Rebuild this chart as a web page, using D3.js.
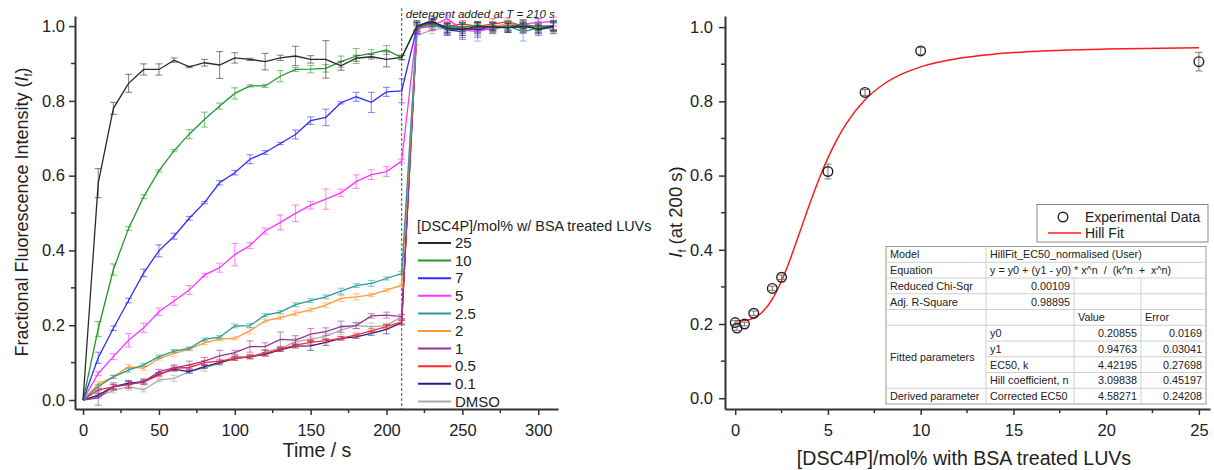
<!DOCTYPE html>
<html><head><meta charset="utf-8">
<script src="https://cdn.jsdelivr.net/npm/d3@7"></script>
<style>
body{margin:0;background:#fff;}
text{font-family:Arial,"Liberation Sans",sans-serif;fill:#222;}
</style>
</head><body>
<svg id="c" width="1214" height="470"></svg>
<script>
// ---------------- DATA: left panel (kinetics) ----------------
const times = [0,10,20,30,40,50,60,70,80,90,100,110,120,130,140,150,160,170,180,190,200,210,220,230,240,250,260,270,280,290,300,310];
const seriesNames = ["25","10","7","5","2.5","2","1","0.5","0.1","DMSO"];
const seriesColors = ["#2b2b2b","#22992a","#2d2dff","#ff33ff","#2a9a9a","#ff9a33","#993399","#ff2a2a","#1f1f88","#aaaaaa"];
const v25  = [0,0.58,0.78,0.847,0.884,0.884,0.909,0.891,0.902,0.896,0.915,0.911,0.905,0.915,0.92,0.911,0.911,0.894,0.914,0.918,0.911,0.916,1.0,1.012,0.995,0.99,1.0,0.998,0.995,1.0,0.992,1.0];
const v10  = [0,0.19,0.349,0.459,0.544,0.613,0.667,0.711,0.75,0.786,0.82,0.84,0.84,0.866,0.884,0.885,0.887,0.905,0.92,0.927,0.936,0.916,1.0,1.005,1.0,0.998,1.002,0.995,1.0,1.005,0.998,1.0];
const v7   = [0,0.113,0.192,0.266,0.34,0.399,0.438,0.486,0.528,0.581,0.608,0.644,0.662,0.686,0.71,0.747,0.756,0.795,0.811,0.796,0.824,0.827,0.995,1.01,0.99,0.995,0.99,1.0,0.995,1.005,0.99,0.998];
const v5   = [0,0.071,0.116,0.16,0.193,0.236,0.265,0.294,0.334,0.354,0.389,0.413,0.452,0.475,0.499,0.521,0.537,0.554,0.584,0.603,0.611,0.639,0.995,1.0,1.02,0.99,0.985,0.995,1.0,1.005,1.01,1.012];
const v2_5 = [0,0.036,0.062,0.08,0.094,0.116,0.131,0.138,0.162,0.168,0.198,0.199,0.227,0.235,0.255,0.266,0.276,0.291,0.306,0.312,0.325,0.339,0.995,1.0,0.995,0.995,0.99,0.993,1.0,0.985,0.995,1.0];
const v2   = [0,0.043,0.062,0.089,0.085,0.111,0.125,0.136,0.153,0.163,0.165,0.185,0.212,0.22,0.232,0.241,0.254,0.272,0.276,0.281,0.294,0.307,0.99,1.005,1.0,0.995,1.0,1.0,1.005,1.0,0.995,1.0];
const v1   = [0,0.006,0.036,0.042,0.049,0.076,0.086,0.094,0.104,0.118,0.127,0.143,0.143,0.162,0.16,0.176,0.183,0.196,0.199,0.225,0.227,0.223,0.99,1.01,0.995,0.99,0.995,1.0,1.0,0.995,1.0,0.995];
const v0_5 = [0,0.027,0.035,0.042,0.048,0.067,0.085,0.087,0.1,0.104,0.111,0.116,0.125,0.136,0.147,0.154,0.159,0.165,0.174,0.185,0.196,0.209,0.995,1.0,1.0,1.005,1.0,1.005,1.012,1.0,0.998,1.0];
const v0_1 = [0,0.013,0.036,0.045,0.049,0.069,0.082,0.076,0.089,0.1,0.111,0.116,0.122,0.134,0.144,0.145,0.154,0.165,0.169,0.178,0.189,0.207,1.0,1.015,0.99,0.985,0.995,0.998,1.0,0.995,1.0,1.0];
const vDMSO= [0,0.009,0.025,0.036,0.027,0.053,0.058,0.076,0.085,0.098,0.118,0.114,0.129,0.138,0.156,0.162,0.171,0.187,0.199,0.196,0.199,0.223,0.975,0.99,0.995,1.0,0.995,0.99,1.0,0.995,1.0,0.99];
// error bars (half-widths)
const e25  = [0,0.039,0.016,0.024,0.015,0.015,0.006,0.002,0.009,0.036,0.014,0.003,0.022,0.007,0.026,0.01,0.05,0.012,0.008,0.006,0.02,0.006,0.01,0.006,0.012,0.015,0.01,0.01,0.012,0.008,0.01,0.012];
const e10  = [0,0.02,0.015,0.005,0.005,0.003,0.003,0.012,0.02,0.008,0.015,0.003,0.004,0.015,0.005,0.01,0.01,0.015,0.02,0.01,0.012,0.005,0.012,0.01,0.008,0.012,0.01,0.015,0.01,0.012,0.01,0.015];
const e7   = [0,0.015,0.006,0.006,0.01,0.016,0.008,0.005,0.003,0.006,0.006,0.012,0.005,0.003,0.012,0.01,0.022,0.003,0.012,0.027,0.012,0.032,0.015,0.01,0.012,0.015,0.02,0.01,0.012,0.01,0.015,0.01];
const e5   = [0,0.005,0.008,0.018,0.012,0.01,0.012,0.012,0.005,0.012,0.03,0.008,0.008,0.02,0.022,0.01,0.027,0.01,0.018,0.013,0.013,0.005,0.01,0.012,0.01,0.015,0.025,0.012,0.01,0.012,0.01,0.012];
const e2_5 = [0,0.006,0.004,0.005,0.004,0.004,0.004,0.004,0.004,0.004,0.005,0.005,0.004,0.004,0.005,0.005,0.005,0.008,0.005,0.008,0.004,0.005,0.012,0.01,0.01,0.012,0.015,0.01,0.012,0.025,0.01,0.01];
const e2   = [0,0.006,0.004,0.006,0.006,0.004,0.008,0.004,0.005,0.004,0.004,0.008,0.004,0.005,0.006,0.005,0.006,0.008,0.008,0.004,0.004,0.005,0.01,0.01,0.012,0.01,0.01,0.012,0.01,0.01,0.012,0.01];
const e1   = [0,0.02,0.01,0.01,0.008,0.006,0.008,0.01,0.01,0.015,0.006,0.015,0.01,0.02,0.012,0.015,0.01,0.015,0.008,0.006,0.008,0.006,0.012,0.01,0.015,0.02,0.012,0.01,0.012,0.015,0.01,0.015];
const e0_5 = [0,0.006,0.006,0.01,0.006,0.005,0.006,0.006,0.006,0.005,0.005,0.006,0.008,0.005,0.005,0.005,0.006,0.005,0.005,0.006,0.006,0.005,0.01,0.012,0.01,0.01,0.012,0.015,0.01,0.012,0.01,0.01];
const e0_1 = [0,0.004,0.006,0.005,0.004,0.004,0.004,0.004,0.004,0.004,0.004,0.004,0.004,0.004,0.005,0.012,0.008,0.004,0.004,0.005,0.012,0.006,0.015,0.012,0.015,0.02,0.015,0.012,0.015,0.012,0.02,0.015];
const eDMSO= [0,0.004,0.006,0.01,0.005,0.004,0.008,0.004,0.008,0.005,0.005,0.004,0.006,0.005,0.008,0.006,0.008,0.012,0.008,0.01,0.006,0.006,0.025,0.01,0.012,0.01,0.01,0.01,0.012,0.01,0.012,0.01];
const seriesValues = [v25,v10,v7,v5,v2_5,v2,v1,v0_5,v0_1,vDMSO];
const seriesErrors = [e25,e10,e7,e5,e2_5,e2,e1,e0_5,e0_1,eDMSO];
const leftXTicks = [0,50,100,150,200,250,300];
const leftXMinor = [25,75,125,175,225,275];
const yTicks = [0,0.2,0.4,0.6,0.8,1.0];
const yMinor = [0.1,0.3,0.5,0.7,0.9];
const detergentTime = 210;

// ---------------- DATA: right panel (dose response) ----------------
const conc     = [0,0.1,0.5,1,2,2.5,5,7,10,25];
const If200    = [0.204,0.189,0.2,0.229,0.296,0.326,0.611,0.824,0.936,0.907];
const If200Err = [0.005,0.006,0.005,0.006,0.006,0.006,0.02,0.008,0.009,0.025];
const fitX = [0,0.5,1,1.5,2,2.5,3,3.5,4,4.5,5,5.5,6,7,8,9,10,12,14,16,18,20,22,25];
const fitY = [0.2086,0.2094,0.2159,0.2337,0.2669,0.3165,0.3795,0.4499,0.5212,0.5882,0.6477,0.6985,0.7408,0.8041,0.8461,0.874,0.893,0.9155,0.9274,0.9342,0.9382,0.9408,0.9425,0.9442];
const rightXTicks = [0,5,10,15,20,25];
const rightXMinor = [2.5,7.5,12.5,17.5,22.5];
const tableRows = [
  ["Model","HillFit_EC50_normalised (User)","",""],
  ["Equation","y = y0 + (y1 - y0) * x^n  /  (k^n  +  x^n)","",""],
  ["Reduced Chi-Sqr","0.00109","",""],
  ["Adj. R-Square","0.98895","",""],
  ["","","Value","Error"],
  ["Fitted parameters","y0","0.20855","0.0169"],
  ["","y1","0.94763","0.03041"],
  ["","EC50, k","4.42195","0.27698"],
  ["","Hill coefficient, n","3.09838","0.45197"],
  ["Derived parameter","Corrected EC50","4.58271","0.24208"]
];

// ---------------- DRAWING ----------------
const svg = d3.select("#c");
const axisColor = "#333";

function drawAxes(g, x, y, xt, xm, yt, ym, yPad, fmtX) {
  const [x0,x1] = x.range(), [y0,y1] = y.range();
  const xa = g.append("g").attr("transform",`translate(0,${y0})`)
    .call(d3.axisBottom(x).tickValues(xt).tickSize(6).tickSizeOuter(0).tickPadding(9).tickFormat(fmtX));
  const ya = g.append("g").attr("transform",`translate(${x0},0)`)
    .call(d3.axisLeft(y).tickValues(yt).tickSize(6).tickSizeOuter(0).tickPadding(yPad).tickFormat(d3.format(".1f")));
  [xa,ya].forEach(a=>{
    a.select(".domain").attr("stroke",axisColor).attr("stroke-width",2);
    a.selectAll(".tick line").attr("stroke",axisColor).attr("stroke-width",1.5);
    a.selectAll(".tick text").attr("font-size",16.5).attr("fill","#222").attr("font-family","Arial, Liberation Sans, sans-serif");
  });
  g.append("g").selectAll("line").data(xm).join("line")
    .attr("x1",d=>x(d)).attr("x2",d=>x(d)).attr("y1",y0).attr("y2",y0+4)
    .attr("stroke",axisColor).attr("stroke-width",1.5);
  g.append("g").selectAll("line").data(ym).join("line")
    .attr("y1",d=>y(d)).attr("y2",d=>y(d)).attr("x1",x0).attr("x2",x0-4)
    .attr("stroke",axisColor).attr("stroke-width",1.5);
}

// ---- Left panel ----
const xL = d3.scaleLinear().domain([-5.3,313]).range([75,558]);
const yL = d3.scaleLinear().domain([-0.024,1.027]).range([409,16]);
const gL = svg.append("g");

// dashed detergent line
gL.append("line").attr("x1",xL(detergentTime)).attr("x2",xL(detergentTime))
  .attr("y1",8).attr("y2",409).attr("stroke","#555").attr("stroke-width",1).attr("stroke-dasharray","3,2");
gL.append("text").attr("x",xL(detergentTime)+4).attr("y",18).attr("font-size",11.6)
  .attr("font-style","italic").attr("fill","#333").text("detergent added at T = 210 s");

const line = d3.line().x(d=>xL(d[0])).y(d=>yL(d[1]));
// draw in reverse order so 25 on top
for (let s = seriesNames.length-1; s >= 0; s--) {
  const vals = seriesValues[s], errs = seriesErrors[s], col = seriesColors[s];
  const pts = times.map((t,i)=>[t,vals[i],errs[i]]);
  const eg = gL.append("g").attr("stroke",col).attr("stroke-opacity",0.55).attr("stroke-width",1.1);
  pts.filter(p=>p[2]>0).forEach(p=>{
    const cx = xL(p[0]);
    eg.append("line").attr("x1",cx).attr("x2",cx).attr("y1",yL(p[1]-p[2])).attr("y2",yL(p[1]+p[2]));
    eg.append("line").attr("x1",cx-3.5).attr("x2",cx+3.5).attr("y1",yL(p[1]-p[2])).attr("y2",yL(p[1]-p[2]));
    eg.append("line").attr("x1",cx-3.5).attr("x2",cx+3.5).attr("y1",yL(p[1]+p[2])).attr("y2",yL(p[1]+p[2]));
  });
  gL.append("path").datum(pts).attr("d",line).attr("fill","none").attr("stroke",col).attr("stroke-width",1.3);
}
drawAxes(gL, xL, yL, leftXTicks, leftXMinor, yTicks, yMinor, 4, d3.format("d"));

// axis titles
const ylab = gL.append("text").attr("transform","translate(28,212) rotate(-90)").attr("text-anchor","middle").attr("font-size",18);
ylab.append("tspan").text("Fractional Fluorescence Intensity (");
ylab.append("tspan").attr("font-style","italic").text("I");
ylab.append("tspan").attr("font-size",11).attr("dy",4).text("f");
ylab.append("tspan").attr("dy",-4).text(")");
gL.append("text").attr("x",317).attr("y",457).attr("text-anchor","middle").attr("font-size",19.5).text("Time / s");

// legend
const lg = gL.append("g");
lg.append("text").attr("x",417).attr("y",231).attr("font-size",14.4).text("[DSC4P]/mol% w/ BSA treated LUVs");
seriesNames.forEach((n,i)=>{
  const yy = 243 + i*17.6;
  lg.append("line").attr("x1",418).attr("x2",451).attr("y1",yy).attr("y2",yy).attr("stroke",seriesColors[i]).attr("stroke-width",2);
  lg.append("text").attr("x",455).attr("y",yy+5.2).attr("font-size",15).text(n);
});

// ---- Right panel ----
const xR = d3.scaleLinear().domain([-0.55,25.6]).range([725,1210]);
const yR = d3.scaleLinear().domain([-0.029,1.03]).range([409,16]);
const gR = svg.append("g");

gR.append("path").datum(fitX.map((x,i)=>[x,fitY[i]]))
  .attr("d",d3.line().x(d=>xR(d[0])).y(d=>yR(d[1])).curve(d3.curveMonotoneX))
  .attr("fill","none").attr("stroke","#ff1a1a").attr("stroke-width",1.5);

const pg = gR.append("g");
conc.forEach((c,i)=>{
  const cx = xR(c), v = If200[i], e = If200Err[i];
  pg.append("line").attr("x1",cx).attr("x2",cx).attr("y1",yR(v-e)).attr("y2",yR(v+e)).attr("stroke","#777").attr("stroke-width",1);
  pg.append("line").attr("x1",cx-3.5).attr("x2",cx+3.5).attr("y1",yR(v-e)).attr("y2",yR(v-e)).attr("stroke","#777").attr("stroke-width",1);
  pg.append("line").attr("x1",cx-3.5).attr("x2",cx+3.5).attr("y1",yR(v+e)).attr("y2",yR(v+e)).attr("stroke","#777").attr("stroke-width",1);
  pg.append("circle").attr("cx",cx).attr("cy",yR(v)).attr("r",4.8).attr("fill","none").attr("stroke","#222").attr("stroke-width",1.4);
});
drawAxes(gR, xR, yR, rightXTicks, rightXMinor, yTicks, yMinor, 6, d3.format("d"));

const ylabR = gR.append("text").attr("transform","translate(682,212) rotate(-90)").attr("text-anchor","middle").attr("font-size",18.5);
ylabR.append("tspan").attr("font-style","italic").text("I");
ylabR.append("tspan").attr("font-size",11).attr("dy",4).text("f");
ylabR.append("tspan").attr("dy",-4).text(" (at 200 s)");
gR.append("text").attr("x",964).attr("y",465).attr("text-anchor","middle").attr("font-size",19.6).text("[DSC4P]/mol% with BSA treated LUVs");

// legend box
const lgR = gR.append("g");
lgR.append("rect").attr("x",1037).attr("y",204.5).attr("width",171).attr("height",37.5).attr("fill","#fff").attr("stroke","#888").attr("stroke-width",1);
lgR.append("circle").attr("cx",1063).attr("cy",217).attr("r",4.8).attr("fill","none").attr("stroke","#222").attr("stroke-width",1.4);
lgR.append("text").attr("x",1085).attr("y",222).attr("font-size",14).text("Experimental Data");
lgR.append("line").attr("x1",1048).attr("x2",1081).attr("y1",233).attr("y2",233).attr("stroke","#ff1a1a").attr("stroke-width",1.5);
lgR.append("text").attr("x",1085).attr("y",238).attr("font-size",14).text("Hill Fit");

// table
const colX = [886,986,1074,1141,1206];
const rowTop = 246.5, rowH = 15.75;
const tfs = 10.8;
const tg = gR.append("g");
tg.append("rect").attr("x",colX[0]).attr("y",rowTop).attr("width",colX[4]-colX[0]).attr("height",rowH*10).attr("fill","#fff").attr("stroke","#999");
for (let r=1;r<10;r++){
  const yy = rowTop + r*rowH;
  const startX = (r>=6 && r<=8) ? colX[1] : colX[0];
  tg.append("line").attr("x1",startX).attr("x2",colX[4]).attr("y1",yy).attr("y2",yy).attr("stroke","#d0d0d0");
}
tg.append("line").attr("x1",colX[1]).attr("x2",colX[1]).attr("y1",rowTop).attr("y2",rowTop+10*rowH).attr("stroke","#d0d0d0");
[colX[2],colX[3]].forEach(xx=>{
  tg.append("line").attr("x1",xx).attr("x2",xx).attr("y1",rowTop+2*rowH).attr("y2",rowTop+10*rowH).attr("stroke","#d0d0d0");
});
tableRows.forEach((row,r)=>{
  const yb = rowTop + r*rowH + rowH/2 + 4;
  if (row[0]) {
    const yy = (r===5) ? rowTop + 5*rowH + 2*rowH + 4 : yb;
    tg.append("text").attr("x",colX[0]+4).attr("y",yy).attr("font-size",tfs).attr("fill","#333").text(row[0]);
  }
  if (row[1]) {
    const numeric = (r===2||r===3);
    tg.append("text").attr("x",numeric?colX[2]-4:colX[1]+4).attr("y",yb).attr("text-anchor",numeric?"end":"start")
      .attr("font-size",tfs).attr("fill","#333").style("white-space","pre").text(row[1]);
  }
  if (row[2]) {
    const hdr = (r===4);
    tg.append("text").attr("x",hdr?colX[2]+4:colX[3]-4).attr("y",yb).attr("text-anchor",hdr?"start":"end")
      .attr("font-size",tfs).attr("fill","#333").text(row[2]);
  }
  if (row[3]) {
    const hdr = (r===4);
    tg.append("text").attr("x",hdr?colX[3]+4:colX[4]-4).attr("y",yb).attr("text-anchor",hdr?"start":"end")
      .attr("font-size",tfs).attr("fill","#333").text(row[3]);
  }
});
</script>
</body></html>
